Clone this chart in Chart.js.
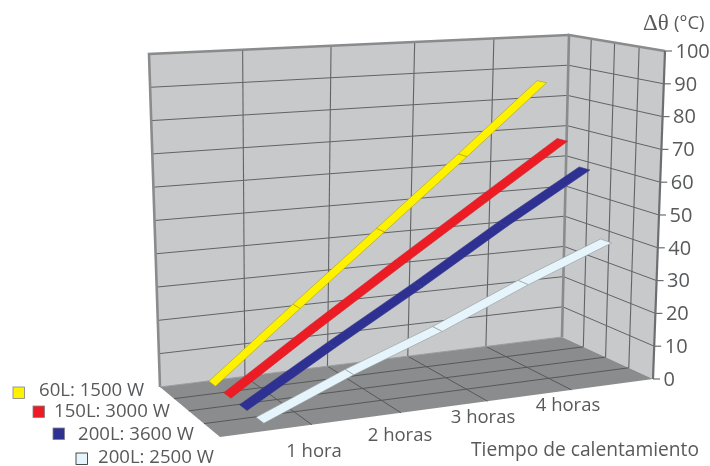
<!DOCTYPE html>
<html><head><meta charset="utf-8">
<script src="https://cdn.jsdelivr.net/npm/chart.js@4"></script>
<style>html,body{margin:0;padding:0;background:#fff}canvas{display:block}</style>
</head><body><canvas id="c" width="710" height="466"></canvas>
<script>
const hourSlots = [0, 1, 2, 3, 4];
const hourLabels = ["1 hora", "2 horas", "3 horas", "4 horas"];
const tempTicks = [0, 10, 20, 30, 40, 50, 60, 70, 80, 90, 100];
const seriesNames = ["60L: 1500 W", "150L: 3000 W", "200L: 3600 W", "200L: 2500 W"];
const seriesColors = ["#fff200", "#ed1c24", "#2e3192", "#e6f4fb"];
const edgeColors = ["#a89f20", "#c8262c", "#34378a", "#8f979b"];
const values60 = [1, 21.5, 42.5, 64, 86];
const values150 = [1, 18, 35, 52, 69];
const values200a = [1, 16, 31, 47, 62];
const values200b = [1, 11.5, 21, 32, 42];
const allValues = [values60, values150, values200a, values200b];
const ribbonWidths = [0.11, 0.115, 0.115, 0.115];
const axisTitle = "Tiempo de calentamiento";

// box corners of the 3D frame
const floorQ = [[160,387],[562,337],[653,379],[220,437]];
const roofQ  = [[149,54],[569,35],[665,51],[209,75]];
function homography(q){
  const [[x0,y0],[x1,y1],[x2,y2],[x3,y3]] = q;
  const dx1=x1-x2, dx2=x3-x2, sx=x0-x1+x2-x3, dy1=y1-y2, dy2=y3-y2, sy=y0-y1+y2-y3;
  const det=dx1*dy2-dy1*dx2, g=(sx*dy2-dx2*sy)/det, h=(dx1*sy-sx*dy1)/det;
  return (u,v)=>{const w=g*u+h*v+1;
    return [((x1-x0+g*x1)*u+(x3-x0+h*x3)*v+x0)/w, ((y1-y0+g*y1)*u+(y3-y0+h*y3)*v+y0)/w];};
}
const floorH = homography(floorQ), roofH = homography(roofQ);
function P(u, t, v){ // u: along time, t: temperature, v: depth
  const a=floorH(u,v), b=roofH(u,v), f=t/100;
  return {x:a[0]+(b[0]-a[0])*f, y:a[1]+(b[1]-a[1])*f};
}
const slotU = s => 0.105 + s*0.199;
const WALL="#c8c9cb", FLOOR="#8b8c8e", GRID="#626366", EDGE="#8a8b8d";
const ds=[];
function poly(points,bg,edge,w){ds.push({data:points,polygon:true,backgroundColor:bg,borderColor:edge,borderWidth:w,showLine:true,pointRadius:0,clip:false,tension:0});}
function line(points,c,w){ds.push({data:points,showLine:true,borderColor:c,borderWidth:w,pointRadius:0,clip:false,tension:0,fill:false});}

poly([P(0,0,0),P(1,0,0),P(1,100,0),P(0,100,0)],WALL,WALL,0);
poly([P(1,0,0),P(1,0,1),P(1,100,1),P(1,100,0)],WALL,WALL,0);
poly([P(0,0,0),P(1,0,0),P(1,0,1),P(0,0,1)],FLOOR,FLOOR,0);
tempTicks.slice(1,-1).forEach(t=>{
  line([P(0,t,0),P(1,t,0)],GRID,1);
  line([P(1,t,0),P(1,t,1)],GRID,1);
});
[.2,.4,.6,.8].forEach(u=>{
  line([P(u,0,0),P(u,100,0)],GRID,1.1);
  line([P(u,0,0),P(u,0,1)],"#57585a",1);
});
[.25,.5,.75].forEach(v=>{
  line([P(1,0,v),P(1,100,v)],GRID,1.1);
  line([P(0,0,v),P(1,0,v)],"#57585a",1);
});
line([P(0,0,0),P(0,100,0),P(1,100,0)],EDGE,2.6);
line([P(1,0,0),P(1,100,0),P(1,100,1)],EDGE,2.6);
line([P(1,100,1),P(1,0,1)],"#6d6e71",2.2);
line([P(0,0,0),P(1,0,0)],"#9a9b9d",1);

allValues.forEach((vals,k)=>{
  const zc=(k+.5)/4, w=ribbonWidths[k]/2;
  for(let i=0;i<hourSlots.length-1;i++){
    const u0=slotU(hourSlots[i]), u1=slotU(hourSlots[i+1]);
    poly([P(u0,vals[i],zc-w),P(u1,vals[i+1],zc-w),P(u1,vals[i+1],zc+w),P(u0,vals[i],zc+w)],seriesColors[k],edgeColors[k],0.6);
  }
});
ds.reverse(); // Chart.js paints the first dataset last

const TXT="#58595b", FF='"Open Sans"';
const polyFill={id:"polyFill",
  beforeDatasetDraw(chart,{meta,index}){
    const d=chart.data.datasets[index]; if(!d.polygon)return;
    const c=chart.ctx; c.save(); c.beginPath();
    meta.data.forEach((p,i)=>i?c.lineTo(p.x,p.y):c.moveTo(p.x,p.y));
    c.closePath(); c.fillStyle=d.backgroundColor; c.fill();
    if(d.borderWidth){c.lineWidth=d.borderWidth;c.strokeStyle=d.borderColor;c.stroke();}
    c.restore(); return false;
  }};
const legendPos=[[13,387,39,391],[33,406,54,412],[53,428,78,435],[76,453,98,458]];
const hourPos=[[314,452],[400,436],[483,418],[568,406]];
const texts={id:"texts",
  afterDraw(chart){
    const c=chart.ctx,sx=chart.scales.x,sy=chart.scales.y; c.save();
    c.textBaseline="middle"; c.fillStyle=TXT;
    tempTicks.forEach(t=>{
      const p=P(1,t,1), x=sx.getPixelForValue(p.x), y=sy.getPixelForValue(p.y);
      c.strokeStyle="#6d6e71"; c.lineWidth=1.2;
      c.beginPath(); c.moveTo(x,y); c.lineTo(x+7,y); c.stroke();
      c.textAlign="left"; c.font='20px '+FF; c.fillStyle=TXT;
      c.fillText(String(t),x+10.5,y+1);
    });
    c.font='18.5px '+FF; c.textAlign="center";
    hourLabels.forEach((s,i)=>c.fillText(s,hourPos[i][0],hourPos[i][1]));
    c.textAlign="left";
    c.font='19.2px '+FF;
    c.fillText(axisTitle,471,451);
    seriesNames.forEach((s,i)=>{
      const L=legendPos[i];
      c.fillStyle=seriesColors[i]; c.fillRect(L[0],L[1],11.5,11.5);
      c.strokeStyle=i==3?"#222":"#808285"; c.lineWidth=.8; c.strokeRect(L[0],L[1],11.5,11.5);
      c.fillStyle=TXT; c.font='18.6px '+FF; c.fillText(s,L[2],L[3]);
    });
    c.font='23px "Liberation Serif"'; c.fillText("Δθ",643,24);
    c.font='18.5px '+FF; c.fillText("(°C)",674,24);
    c.restore();
  }};
new Chart(document.getElementById("c"),{
  type:"scatter",
  data:{datasets:ds},
  options:{responsive:false,animation:false,devicePixelRatio:1,
    layout:{padding:0},
    plugins:{legend:{display:false},tooltip:{enabled:false}},
    scales:{
      x:{type:"linear",min:0,max:710,display:false},
      y:{type:"linear",min:0,max:466,reverse:true,display:false}
    }},
  plugins:[polyFill,texts]
});
</script></body></html>
